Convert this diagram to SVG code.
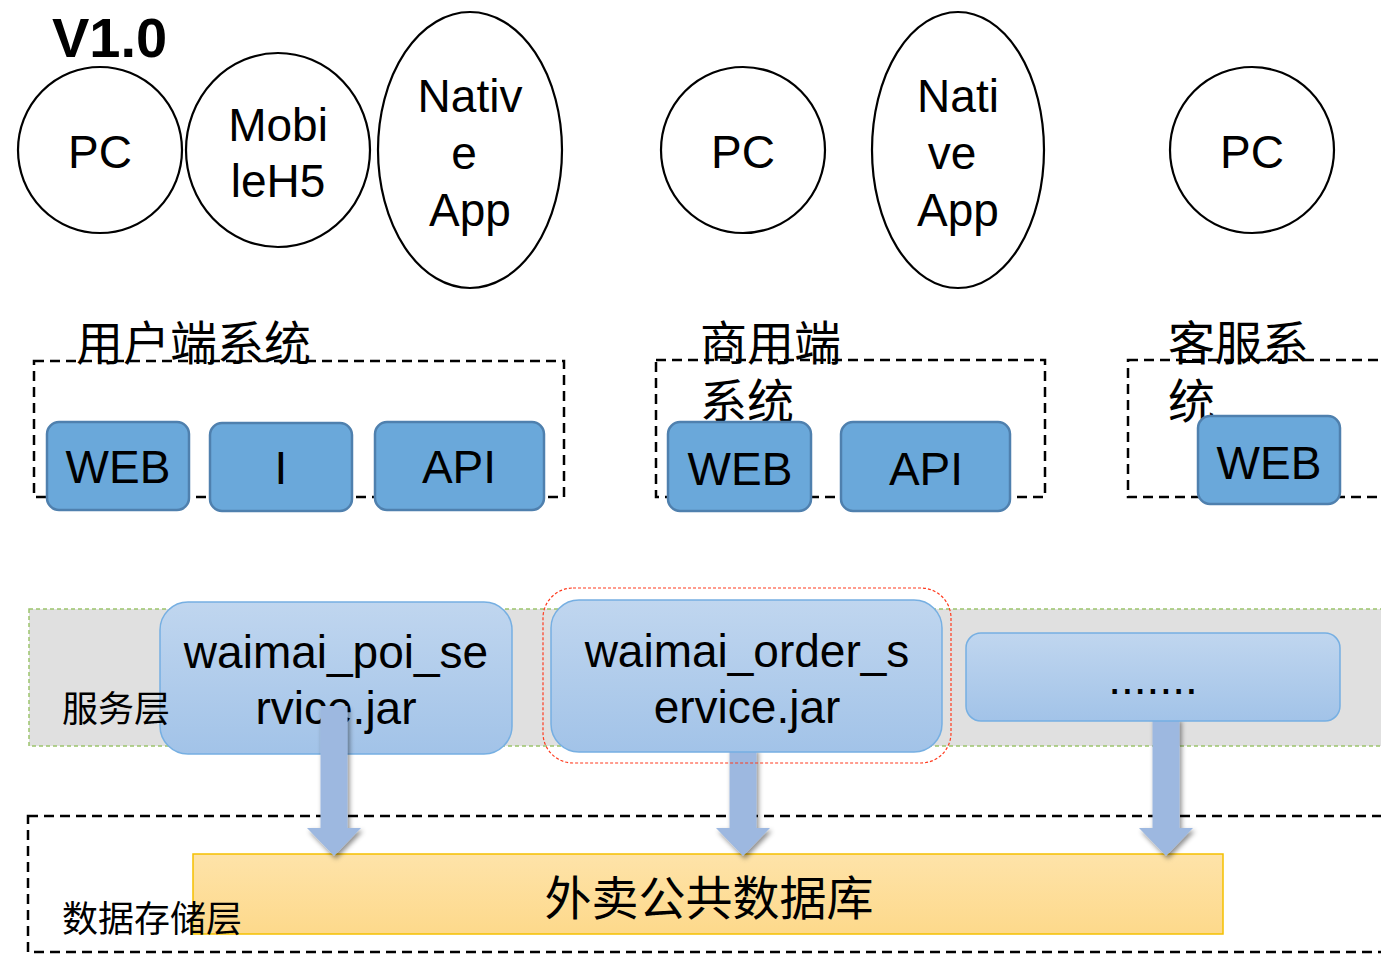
<svg xmlns="http://www.w3.org/2000/svg" width="1381" height="954" viewBox="0 0 1381 954">
<defs>
<linearGradient id="jarGrad" x1="0" y1="0" x2="0" y2="1"><stop offset="0" stop-color="#c0d6ef"/><stop offset="1" stop-color="#a2c3e8"/></linearGradient>
<linearGradient id="dbGrad" x1="0" y1="0" x2="0" y2="1"><stop offset="0" stop-color="#fee3a9"/><stop offset="1" stop-color="#fdd98b"/></linearGradient>
<filter id="shadow" x="-30%" y="-10%" width="160%" height="130%"><feDropShadow dx="2" dy="3" stdDeviation="2.5" flood-color="#000" flood-opacity="0.45"/></filter>
</defs>
<style>
.lat{font-family:"Liberation Sans",Arial,sans-serif;font-size:46px;fill:#000;text-anchor:middle}
.cjk{font-family:"Noto Sans CJK SC",sans-serif;fill:#000}
.client{fill:#fff;stroke:#000;stroke-width:2.2}
.dash{fill:none;stroke:#000;stroke-width:2.5;stroke-dasharray:10 6}
.node{fill:#6aa8da;stroke:#4f80ae;stroke-width:2.5}
.jar{fill:url(#jarGrad);stroke:#76afe2;stroke-width:1.5}
.arrow{fill:#9db8e0;filter:url(#shadow)}
</style>
<rect width="1381" height="954" fill="#fff"/>
<text x="52" y="57" style="font-family:'Liberation Sans',Arial,sans-serif;font-weight:bold;font-size:56px">V1.0</text>

<g id="client-pc1"><ellipse class="client" cx="100" cy="150" rx="82" ry="83"/><text class="lat" x="100" y="168">PC</text></g>
<g id="client-mobileh5"><ellipse class="client" cx="278" cy="150" rx="92" ry="97"/><text class="lat" x="278" y="141">Mobi</text><text class="lat" x="278" y="197">leH5</text></g>
<g id="client-native1"><ellipse class="client" cx="470" cy="150" rx="92" ry="138"/><text class="lat" x="470" y="112">Nativ</text><text class="lat" x="464" y="169">e</text><text class="lat" x="470" y="226">App</text></g>
<g id="client-pc2"><ellipse class="client" cx="743" cy="150" rx="82" ry="83"/><text class="lat" x="743" y="168">PC</text></g>
<g id="client-native2"><ellipse class="client" cx="958" cy="150" rx="86" ry="138"/><text class="lat" x="958" y="112">Nati</text><text class="lat" x="952" y="169">ve</text><text class="lat" x="958" y="226">App</text></g>
<g id="client-pc3"><ellipse class="client" cx="1252" cy="150" rx="82" ry="83"/><text class="lat" x="1252" y="168">PC</text></g>

<g id="user-system">
<rect class="dash" x="34" y="361" width="530" height="136"/>
<text class="cjk" x="76" y="360" font-size="47">用户端系统</text>
</g>
<g id="user-web"><rect class="node" x="47" y="422" width="142" height="88" rx="12"/><text class="lat" x="118" y="483">WEB</text></g>
<g id="user-i"><rect class="node" x="210" y="423" width="142" height="88" rx="12"/><text class="lat" x="281" y="484">I</text></g>
<g id="user-api"><rect class="node" x="375" y="422" width="169" height="88" rx="12"/><text class="lat" x="459" y="483">API</text></g>

<g id="merchant-system">
<rect class="dash" x="656" y="360" width="389" height="137"/>
<text class="cjk" x="700" y="360" font-size="47">商用端</text>
<text class="cjk" x="700" y="418" font-size="47">系统</text>
</g>
<g id="merchant-web"><rect class="node" x="668" y="422" width="143" height="89" rx="12"/><text class="lat" x="740" y="485">WEB</text></g>
<g id="merchant-api"><rect class="node" x="841" y="422" width="169" height="89" rx="12"/><text class="lat" x="926" y="485">API</text></g>

<g id="service-system">
<rect class="dash" x="1128" y="360" width="280" height="137"/>
<text class="cjk" x="1168" y="360" font-size="47">客服系</text>
<text class="cjk" x="1168" y="418" font-size="47">统</text>
</g>
<g id="service-web"><rect class="node" x="1198" y="416" width="142" height="88" rx="12"/><text class="lat" x="1269" y="479">WEB</text></g>

<g id="service-layer">
<rect x="29" y="609" width="1370" height="137" fill="#e0e0e0" stroke="#9cc46c" stroke-width="1.5" stroke-dasharray="4 3"/>
</g>

<g id="data-layer">
<rect class="dash" x="28" y="816" width="1380" height="136"/>
</g>
<g id="db"><rect x="193" y="854" width="1030" height="80" fill="url(#dbGrad)" stroke="#f5c000" stroke-width="1.5"/><text class="cjk" x="709" y="915" font-size="47" text-anchor="middle">外卖公共数据库</text></g>
<text class="cjk" x="62" y="932" font-size="36">数据存储层</text>

<g id="connectors">
<path class="arrow" d="M729.5,748 H756.5 V828 H770 L743,856 L716,828 H729.5 Z"/>
<path class="arrow" d="M1152.5,718 H1179.5 V828 H1193 L1166,856 L1139,828 H1152.5 Z"/>
</g>

<g id="poi-jar"><rect class="jar" x="160" y="602" width="352" height="152" rx="28"/><text class="lat" x="336" y="668">waimai_poi_se</text><text class="lat" x="336" y="724">rvice.jar</text></g>
<g id="order-jar"><rect x="543" y="588" width="408" height="175" rx="30" fill="none" stroke="#ff3b1f" stroke-width="1.2" stroke-dasharray="3 2"/><rect class="jar" x="551" y="600" width="391" height="152" rx="28"/><text class="lat" x="747" y="667">waimai_order_s</text><text class="lat" x="747" y="723">ervice.jar</text></g>
<g id="more-jar"><rect class="jar" x="966" y="633" width="374" height="88" rx="15"/><text class="lat" x="1153" y="694">.......</text></g>
<text class="cjk" x="62" y="722" font-size="36">服务层</text>

<g id="connectors-front">
<path class="arrow" d="M320.5,706 H347.5 V828 H361 L334,856 L307,828 H320.5 Z"/>
</g>
</svg>
